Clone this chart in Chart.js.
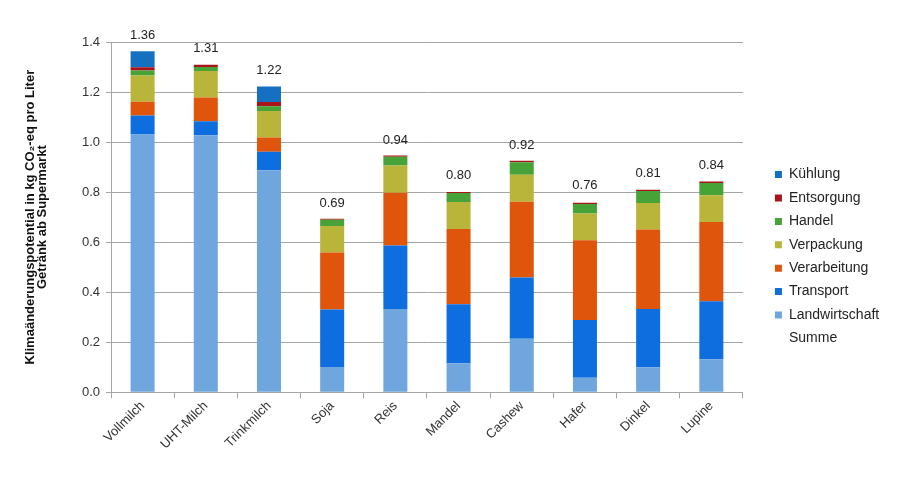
<!DOCTYPE HTML>
<html lang="de">

<head>
    <title>Klimaänderungspotential Getränke</title>
    <meta charset="utf-8" />
    <script src="https://cdn.jsdelivr.net/npm/chart.js@4"></script>
    <style>
        html, body { margin: 0; padding: 0; background: #fff; }
        #wrap { width: 900px; height: 485px; }
    </style>
</head>

<body>
    <div id="wrap"><canvas id="graph"></canvas></div>
    <script>
        const categories = ['Vollmilch', 'UHT-Milch', 'Trinkmilch', 'Soja', 'Reis', 'Mandel', 'Cashew', 'Hafer', 'Dinkel', 'Lupine'];

        // values in kg CO2-eq per litre, bottom of the stack first
        const landwirtschaft = [1.030, 1.027, 0.887, 0.101, 0.333, 0.116, 0.214, 0.058, 0.100, 0.132];
        const transport      = [0.076, 0.056, 0.074, 0.230, 0.254, 0.236, 0.245, 0.231, 0.233, 0.232];
        const verarbeitung   = [0.055, 0.095, 0.057, 0.228, 0.211, 0.301, 0.303, 0.319, 0.318, 0.317];
        const verpackung     = [0.105, 0.106, 0.106, 0.106, 0.108, 0.108, 0.107, 0.107, 0.106, 0.107];
        const handel         = [0.020, 0.016, 0.019, 0.025, 0.035, 0.036, 0.050, 0.038, 0.048, 0.048];
        const entsorgung     = [0.013, 0.009, 0.017, 0.004, 0.005, 0.004, 0.006, 0.005, 0.005, 0.006];
        const kuehlung       = [0.064, 0.000, 0.062, 0.000, 0.000, 0.000, 0.000, 0.000, 0.000, 0.000];
        const summe          = [1.36, 1.31, 1.22, 0.69, 0.94, 0.80, 0.92, 0.76, 0.81, 0.84];

        const yTicks = [0, 0.2, 0.4, 0.6, 0.8, 1.0, 1.2, 1.4];

        const font = "'Liberation Sans', Arial, sans-serif";
        const textColor = '#333';
        const gridColor = '#a6a6a6';

        function bar(label, data, color) {
            return { type: 'bar', label: label, data: data, backgroundColor: color, borderWidth: 0, stack: 'a',
                     barPercentage: 0.5, categoryPercentage: 0.76 };
        }

        // total labels above every bar, placed at the Summe points
        const sumLabels = {
            id: 'sumLabels',
            afterDatasetsDraw(chart) {
                const idx = chart.data.datasets.findIndex(d => d.label === 'Summe');
                const meta = chart.getDatasetMeta(idx);
                const ctx = chart.ctx;
                ctx.save();
                ctx.font = '13px ' + font;
                ctx.fillStyle = '#222';
                ctx.textAlign = 'center';
                ctx.textBaseline = 'bottom';
                meta.data.forEach((pt, i) => {
                    ctx.fillText(summe[i].toFixed(2), pt.x, pt.y - 10);
                });
                ctx.restore();
            }
        };

        // keep a gap between plot and legend, like the original
        const legendGap = {
            id: 'legendGap',
            afterInit(chart) {
                const lg = chart.legend;
                const fit = lg.fit.bind(lg);
                lg.fit = function () { fit(); this.width += 33.4; };
            },
            afterLayout(chart) {
                chart.legend.left += 22.6;
                chart.legend.right += 22.6;
            }
        };

        const graph = new Chart(document.getElementById('graph').getContext('2d'), {
            data: {
                labels: categories,
                datasets: [
                    bar('Landwirtschaft', landwirtschaft, '#6fa6dd'),
                    bar('Transport', transport, '#0e6edf'),
                    bar('Verarbeitung', verarbeitung, '#df550b'),
                    bar('Verpackung', verpackung, '#b9b53a'),
                    bar('Handel', handel, '#47a237'),
                    bar('Entsorgung', entsorgung, '#a8141a'),
                    bar('Kühlung', kuehlung, '#1670c1'),
                    {
                        type: 'line', label: 'Summe', data: summe,
                        showLine: false, pointRadius: 0, borderColor: 'transparent', backgroundColor: 'transparent'
                    }
                ]
            },
            options: {
                responsive: true,
                maintainAspectRatio: false,
                animation: false,
                layout: { padding: { top: 42, left: 24, right: 0, bottom: 14 } },
                plugins: {
                    tooltip: { enabled: false },
                    legend: {
                        position: 'right',
                        labels: {
                            font: { family: font, size: 14 },
                            color: '#222',
                            boxWidth: 7,
                            boxHeight: 7,
                            padding: 9.4,
                            generateLabels(chart) {
                                const items = Chart.defaults.plugins.legend.labels.generateLabels(chart);
                                const bars = items.filter(it => it.text !== 'Summe').reverse();
                                const sum = items.find(it => it.text === 'Summe');
                                sum.fillStyle = 'transparent';
                                sum.strokeStyle = 'transparent';
                                sum.lineWidth = 0;
                                bars.forEach(it => { it.lineWidth = 0; });
                                return bars.concat([sum]);
                            }
                        }
                    }
                },
                scales: {
                    x: {
                        stacked: true,
                        grid: { display: true, drawOnChartArea: false, color: gridColor, tickLength: 6, offset: true },
                        border: { color: gridColor },
                        ticks: {
                            font: { family: font, size: 13 }, color: textColor,
                            minRotation: 45, maxRotation: 45, padding: 0
                        },
                        afterFit(s) { s.height = 78.7; }
                    },
                    y: {
                        stacked: true,
                        min: 0,
                        max: 1.4,
                        afterBuildTicks(s) { s.ticks = yTicks.map(v => ({ value: v })); },
                        grid: { color: gridColor, tickLength: 5 },
                        border: { color: gridColor },
                        ticks: {
                            font: { family: font, size: 13 }, color: textColor, padding: 6,
                            callback: v => v.toFixed(1)
                        },
                        title: {
                            display: true,
                            text: ['Klimaänderungspotential in kg CO₂-eq pro Liter', 'Getränk ab Supermarkt'],
                            font: { family: font, size: 13, weight: 'bold', lineHeight: 0.95 },
                            color: '#111',
                            padding: { top: 0, bottom: 10 }
                        },
                        afterFit(s) { s.width = 87; }
                    }
                }
            },
            plugins: [sumLabels, legendGap]
        });
    </script>
</body>

</html>
